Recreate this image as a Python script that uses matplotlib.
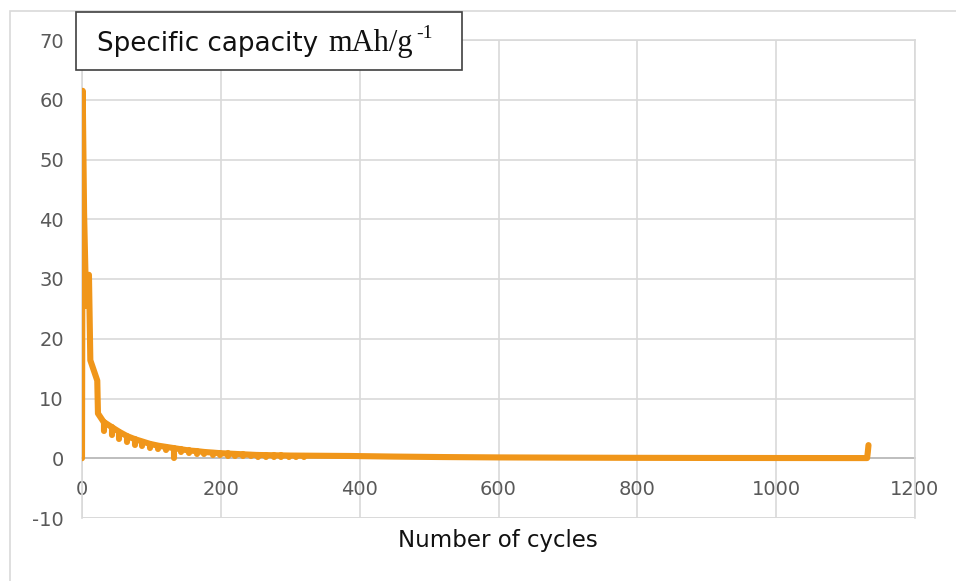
import matplotlib.pyplot as plt
from matplotlib.patches import Rectangle

plt.rcParams['axes.unicode_minus'] = False

# main curve (cycle number, specific capacity)
cycles = [0, 1, 3, 6, 10, 12, 22, 23, 31, 43, 54, 65, 76, 87, 98, 110,
          121, 132, 143, 154, 165, 176, 188, 199, 225, 252, 300, 386,
          450, 520, 600, 700, 800, 900, 1000, 1100, 1131, 1132, 1133]
capacity = [0, 61.5, 41, 25.5, 30.7, 16.4, 13, 7.5, 6.1, 5.2, 4.4, 3.7,
            3.2, 2.8, 2.4, 2.1, 1.9, 1.7, 1.5, 1.3, 1.2, 1.05, 0.95, 0.85,
            0.7, 0.55, 0.45, 0.38, 0.28, 0.2, 0.14, 0.1, 0.07, 0.05, 0.04,
            0.03, 0.03, 1.0, 2.2]

# short drops that show up as notches under the curve
dip_cycles = [31, 43, 54, 65, 76, 87, 98, 110, 121, 132, 143, 154, 165,
              176, 188, 199, 210, 221, 232, 243, 254, 265, 276, 287, 298,
              309, 320]
dip_tops = [6.1, 5.2, 4.4, 3.7, 3.2, 2.8, 2.4, 2.1, 1.9, 1.7, 1.5, 1.3,
            1.2, 1.05, 0.95, 0.85, 0.8, 0.74, 0.68, 0.62, 0.55, 0.52,
            0.5, 0.48, 0.45, 0.44, 0.43]
dip_bottoms = [4.5, 3.9, 3.3, 2.7, 2.3, 2.0, 1.7, 1.5, 1.3, 0.0, 1.0, 0.85,
               0.75, 0.65, 0.55, 0.48, 0.42, 0.38, 0.33, 0.3, 0.27, 0.25,
               0.22, 0.2, 0.2, 0.18, 0.18]

x_ticks = [0, 200, 400, 600, 800, 1000, 1200]
y_ticks = [-10, 0, 10, 20, 30, 40, 50, 60, 70]

orange = '#F0961A'
grid_col = '#D9D9D9'
W, H = 956, 581

fig = plt.figure(figsize=(W / 100, H / 100), dpi=100)
ax = fig.add_axes([82 / W, 1 - 518 / H, (915 - 82) / W, (518 - 40) / H])

ax.plot(cycles, capacity, color=orange, linewidth=4.4,
        solid_capstyle='round', solid_joinstyle='round', zorder=3)
dips = ax.vlines(dip_cycles, dip_bottoms, dip_tops, colors=orange,
                 linewidth=4.4, zorder=3)
dips.set_capstyle('round')

ax.set_xlim(0, 1200)
ax.set_ylim(-10, 70)
ax.set_xticks(x_ticks)
ax.set_yticks(y_ticks)
ax.grid(True, color=grid_col, linewidth=1.2, zorder=0)
ax.set_axisbelow(True)

for side in ['left', 'right', 'top']:
    ax.spines[side].set_color(grid_col)
    ax.spines[side].set_linewidth(1.2)
ax.spines['bottom'].set_position(('data', 0))
ax.spines['bottom'].set_color('#BFBFBF')
ax.spines['bottom'].set_linewidth(1.4)
ax.spines['bottom'].set_zorder(2)
# bottom frame line at -10
ax.axhline(-10, color=grid_col, linewidth=1.2, zorder=1)

ax.tick_params(axis='both', length=0, labelsize=14, labelcolor='#595959')
ax.tick_params(axis='x', pad=16)
ax.tick_params(axis='y', pad=13)

fig.text(498 / W, 1 - 540 / H, 'Number of cycles', fontsize=16.5,
         ha='center', va='center', color='#111111')

# outer chart border
fig.patches.append(Rectangle((10 / W, -0.1), 1.2, 1.1 - 11 / H,
                             transform=fig.transFigure, fill=False,
                             edgecolor='#D9D9D9', linewidth=1.2))

# title box
fig.patches.append(Rectangle((76 / W, 1 - 70 / H), (462 - 76) / W, 58 / H,
                             transform=fig.transFigure, facecolor='white',
                             edgecolor='#404040', linewidth=1.2, zorder=5))
fig.text(97 / W, 1 - 51 / H, 'Specific capacity', fontsize=18.8,
         va='baseline', ha='left', color='#111111', zorder=6)
fig.text(328 / W, 1 - 51 / H, 'mAh/g', fontsize=22, family='Liberation Serif',
         va='baseline', ha='left', color='#111111', zorder=6)
fig.text(416 / W, 1 - 38 / H, '-1', fontsize=14, family='Liberation Serif',
         va='baseline', ha='left', color='#111111', zorder=6)

fig.savefig('out.png', dpi=100)
